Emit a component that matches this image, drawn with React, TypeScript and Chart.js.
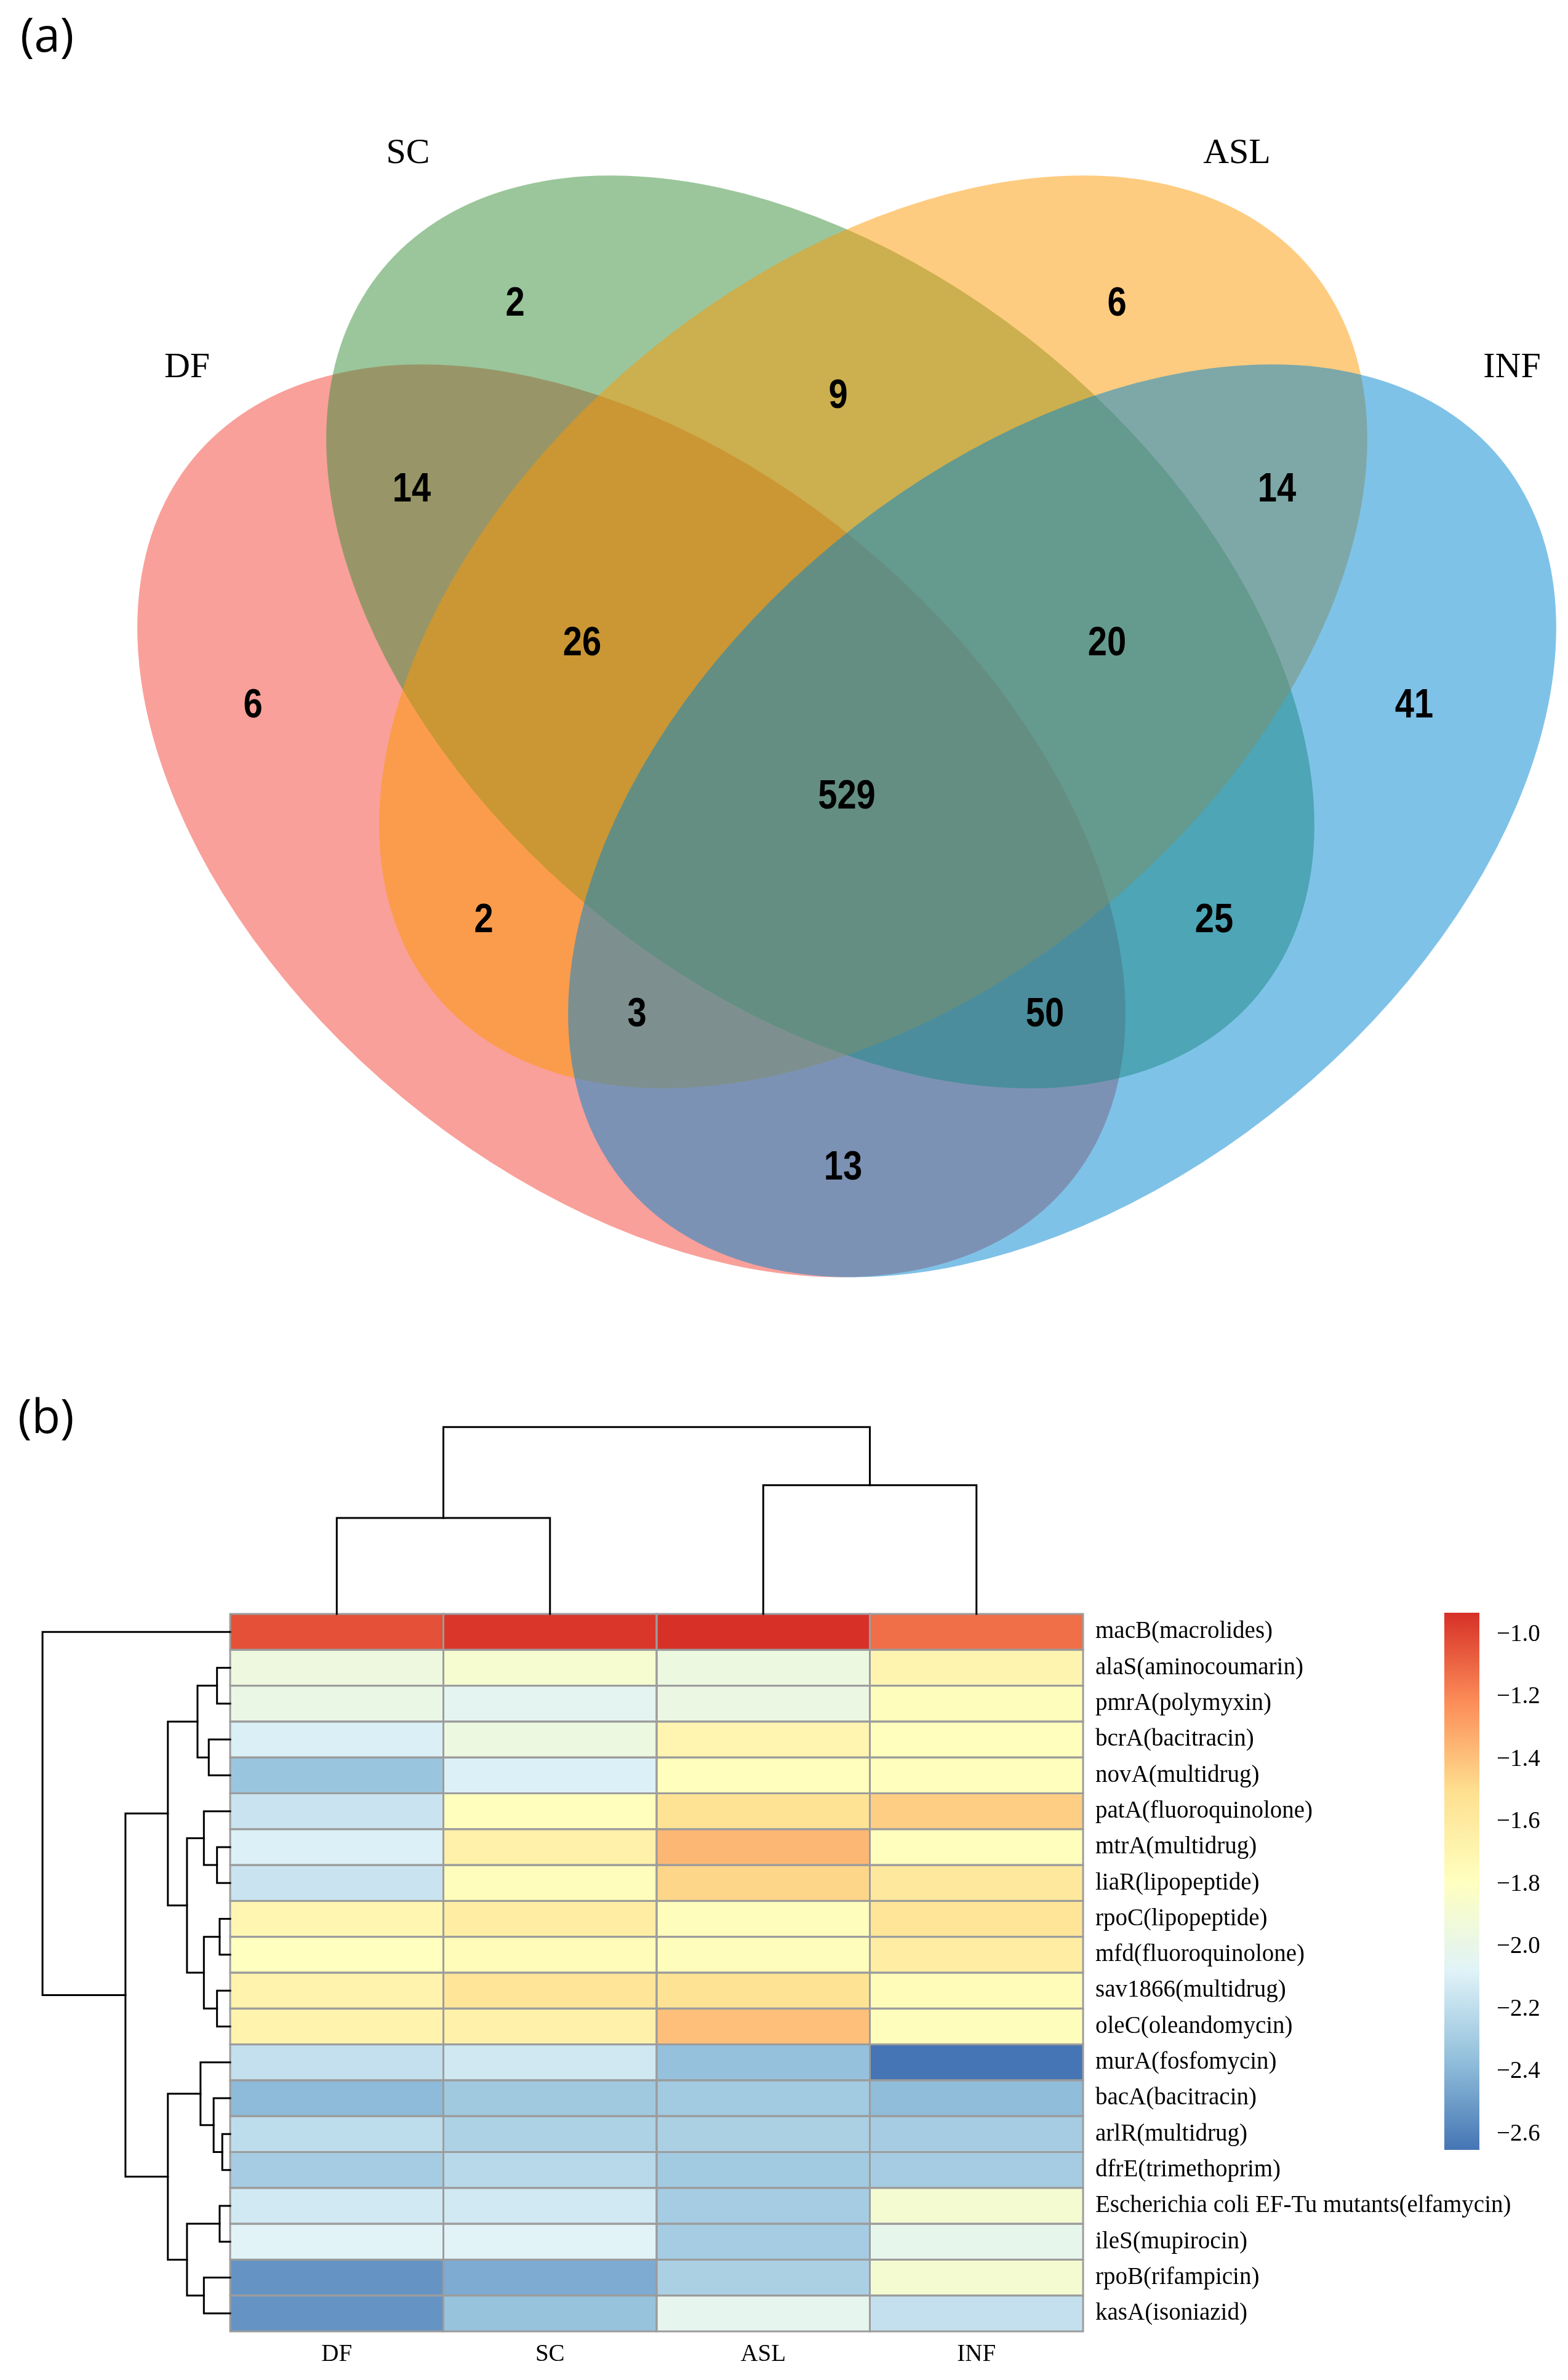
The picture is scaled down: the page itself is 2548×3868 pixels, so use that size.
import React, { useEffect, useRef } from "react";
import { Chart, registerables } from "chart.js";
Chart.register(...registerables);

// ---------------- Panel (a): Venn data ----------------
const VENN_SETS = ["DF", "SC", "ASL", "INF"];
const VENN_FILL = ["rgba(243,65,53,0.5)", "rgba(55,141,55,0.5)", "rgba(253,153,1,0.5)", "rgba(0,134,210,0.5)"];
const VENN_CX = [-0.35, -0.043, 0.043, 0.35];
const VENN_CY = [0.742, 1.049, 1.049, 0.742];
const VENN_ROT = [-39.7, -39.7, 39.7, 39.7];
const VENN_A = [0.924, 0.924, 0.924, 0.924];
const VENN_B = [0.584, 0.584, 0.584, 0.584];
const VENN_SET_LABEL_X = [-1.072, -0.713, 0.634, 1.081];
const VENN_SET_LABEL_Y = [1.478, 1.826, 1.826, 1.478];

const VENN_COUNTS = [6, 2, 6, 41, 14, 9, 14, 26, 20, 529, 2, 25, 3, 50, 13];
const VENN_COUNT_X = [-0.965, -0.539, 0.439, 0.922, -0.707, -0.014, 0.699, -0.43, 0.423, 0, -0.59, 0.597, -0.341, 0.322, -0.006];
const VENN_COUNT_Y = [0.928, 1.581, 1.581, 0.928, 1.279, 1.431, 1.279, 1.029, 1.029, 0.78, 0.579, 0.579, 0.426, 0.426, 0.177];

// ---------------- Panel (b): heatmap data ----------------
const SAMPLES = ["DF", "SC", "ASL", "INF"];
const GENES = [
  "macB(macrolides)",
  "alaS(aminocoumarin)",
  "pmrA(polymyxin)",
  "bcrA(bacitracin)",
  "novA(multidrug)",
  "patA(fluoroquinolone)",
  "mtrA(multidrug)",
  "liaR(lipopeptide)",
  "rpoC(lipopeptide)",
  "mfd(fluoroquinolone)",
  "sav1866(multidrug)",
  "oleC(oleandomycin)",
  "murA(fosfomycin)",
  "bacA(bacitracin)",
  "arlR(multidrug)",
  "dfrE(trimethoprim)",
  "Escherichia coli EF-Tu mutants(elfamycin)",
  "ileS(mupirocin)",
  "rpoB(rifampicin)",
  "kasA(isoniazid)",
];
const VAL_DF = [-1.03, -1.95, -1.98, -2.10, -2.33, -2.16, -2.09, -2.16, -1.71, -1.79, -1.68, -1.68, -2.18, -2.38, -2.20, -2.29, -2.13, -2.07, -2.53, -2.53];
const VAL_SC = [-0.95, -1.87, -2.04, -1.96, -2.09, -1.78, -1.66, -1.77, -1.62, -1.76, -1.55, -1.66, -2.14, -2.31, -2.26, -2.22, -2.13, -2.07, -2.44, -2.34];
const VAL_ASL = [-0.93, -1.96, -1.97, -1.70, -1.78, -1.53, -1.36, -1.47, -1.77, -1.77, -1.53, -1.39, -2.35, -2.30, -2.27, -2.30, -2.29, -2.29, -2.27, -2.02];
const VAL_INF = [-1.12, -1.69, -1.77, -1.78, -1.78, -1.44, -1.78, -1.58, -1.55, -1.62, -1.76, -1.77, -2.65, -2.37, -2.29, -2.29, -1.88, -2.01, -1.88, -2.18];
const VALUES = [VAL_DF, VAL_SC, VAL_ASL, VAL_INF];

// hclust-style merges: [left, right, height]; negative = leaf (1-based display order)
const ROW_MERGES = [
  [-2, -3, 0.35],
  [-4, -5, 0.57],
  [1, 2, 0.87],
  [-7, -8, 0.35],
  [-6, 4, 0.7],
  [-9, -10, 0.28],
  [-11, -12, 0.35],
  [6, 7, 0.7],
  [5, 8, 1.15],
  [3, 9, 1.66],
  [-15, -16, 0.21],
  [-14, 11, 0.44],
  [-13, 12, 0.79],
  [-17, -18, 0.28],
  [-19, -20, 0.7],
  [14, 15, 1.15],
  [13, 16, 1.66],
  [10, 17, 2.79],
  [-1, 18, 5.0],
];
const COL_MERGES = [
  [-1, -2, 2.56],
  [-3, -4, 3.43],
  [1, 2, 4.98],
];
const COLORBAR_TICKS = [-1.0, -1.2, -1.4, -1.6, -1.8, -2.0, -2.2, -2.4, -2.6];
const PALETTE = ["#4575B4", "#91BFDB", "#E0F3F8", "#FFFFBF", "#FEE090", "#FC8D59", "#D73027"];

// ---------------- styles ----------------
const W = 2548;
const VENN_H = 2200;
const HEAT_H = 1668;
const ROW_TREE_UNIT = 0.176; // column-units per height unit
const COL_TREE_UNIT = 1.046; // row-units per height unit
const SERIF = '"Liberation Serif", "Times New Roman", serif';

function hexToRgb(h: string) {
  const n = parseInt(h.slice(1), 16);
  return [(n >> 16) & 255, (n >> 8) & 255, n & 255];
}
const PAL_RGB = PALETTE.map(hexToRgb);
const ALL_VALUES = VALUES.flat();
const VMIN = Math.min(...ALL_VALUES);
const VMAX = Math.max(...ALL_VALUES);

function colorFor(v: number) {
  let t = (v - VMIN) / (VMAX - VMIN);
  t = Math.max(0, Math.min(1, t));
  const seg = t * (PAL_RGB.length - 1);
  const i = Math.min(PAL_RGB.length - 2, Math.floor(seg));
  const f = seg - i;
  const a = PAL_RGB[i], b = PAL_RGB[i + 1];
  const c = a.map((x, k) => Math.round(x + (b[k] - x) * f));
  return `rgb(${c[0]},${c[1]},${c[2]})`;
}

function treeGetter(merges: number[][], leafPos: (i: number) => number) {
  const pos: number[] = [];
  const get = (id: number) =>
    id < 0 ? { p: leafPos(-id - 1), h: 0 } : { p: pos[id - 1], h: merges[id - 1][2] };
  merges.forEach((m, k) => {
    pos[k] = (get(m[0]).p + get(m[1]).p) / 2;
  });
  return get;
}

const vennPlugin = {
  id: "vennDraw",
  afterDatasetsDraw(chart: any) {
    const ctx = chart.ctx as CanvasRenderingContext2D;
    const xs = chart.scales.x;
    const ppu = Math.abs(xs.getPixelForValue(1) - xs.getPixelForValue(0));
    const centers = chart.getDatasetMeta(0).data;
    ctx.save();
    centers.forEach((pt: any, i: number) => {
      ctx.beginPath();
      ctx.ellipse(pt.x, pt.y, VENN_A[i] * ppu, VENN_B[i] * ppu, (-VENN_ROT[i] * Math.PI) / 180, 0, Math.PI * 2);
      ctx.fillStyle = VENN_FILL[i];
      ctx.fill();
    });
    // counts
    ctx.fillStyle = "#000";
    ctx.textAlign = "center";
    ctx.textBaseline = "middle";
    ctx.font = 'bold 66px "Liberation Sans", Arial, sans-serif';
    chart.getDatasetMeta(1).data.forEach((pt: any, i: number) => {
      ctx.save();
      ctx.translate(pt.x, pt.y);
      ctx.scale(0.85, 1);
      ctx.fillText(String(VENN_COUNTS[i]), 0, 0);
      ctx.restore();
    });
    // set labels
    ctx.font = `58px ${SERIF}`;
    chart.getDatasetMeta(2).data.forEach((pt: any, i: number) => {
      ctx.fillText(VENN_SETS[i], pt.x, pt.y);
    });
    // panel label
    ctx.textAlign = "left";
    ctx.font = '76px "Open Sans", "Noto Sans", sans-serif';
    ctx.fillText("(a)", 33, 62);
    ctx.restore();
  },
};

const heatPlugin = {
  id: "heatDraw",
  afterDatasetsDraw(chart: any) {
    const ctx = chart.ctx as CanvasRenderingContext2D;
    const xs = chart.scales.x;
    const ys = chart.scales.y;
    const area = chart.chartArea;
    ctx.save();
    // cells
    const cells = chart.getDatasetMeta(0).data;
    const raws = chart.data.datasets[0].data;
    cells.forEach((_: any, i: number) => {
      const r = raws[i];
      const x0 = xs.getPixelForValue(r.x - 0.5), x1 = xs.getPixelForValue(r.x + 0.5);
      const y0 = ys.getPixelForValue(r.y - 0.5), y1 = ys.getPixelForValue(r.y + 0.5);
      ctx.fillStyle = colorFor(r.v);
      ctx.fillRect(x0, y0, x1 - x0, y1 - y0);
    });
    ctx.strokeStyle = "#9c9c9c";
    ctx.lineWidth = 3;
    cells.forEach((_: any, i: number) => {
      const r = raws[i];
      const x0 = xs.getPixelForValue(r.x - 0.5), x1 = xs.getPixelForValue(r.x + 0.5);
      const y0 = ys.getPixelForValue(r.y - 0.5), y1 = ys.getPixelForValue(r.y + 0.5);
      ctx.strokeRect(x0, y0, x1 - x0, y1 - y0);
    });

    // row dendrogram
    ctx.strokeStyle = "#000";
    ctx.lineWidth = 3;
    ctx.lineCap = "square";
    const rget = treeGetter(ROW_MERGES, (i) => i + 0.5);
    const RX = (h: number) => xs.getPixelForValue(-h * ROW_TREE_UNIT);
    ROW_MERGES.forEach((m) => {
      const a = rget(m[0]), b = rget(m[1]), h = m[2];
      ctx.beginPath();
      ctx.moveTo(RX(a.h), ys.getPixelForValue(a.p));
      ctx.lineTo(RX(h), ys.getPixelForValue(a.p));
      ctx.lineTo(RX(h), ys.getPixelForValue(b.p));
      ctx.lineTo(RX(b.h), ys.getPixelForValue(b.p));
      ctx.stroke();
    });
    // column dendrogram
    const cget = treeGetter(COL_MERGES, (i) => i + 0.5);
    const CY = (h: number) => ys.getPixelForValue(-h * COL_TREE_UNIT);
    COL_MERGES.forEach((m) => {
      const a = cget(m[0]), b = cget(m[1]), h = m[2];
      ctx.beginPath();
      ctx.moveTo(xs.getPixelForValue(a.p), CY(a.h));
      ctx.lineTo(xs.getPixelForValue(a.p), CY(h));
      ctx.lineTo(xs.getPixelForValue(b.p), CY(h));
      ctx.lineTo(xs.getPixelForValue(b.p), CY(b.h));
      ctx.stroke();
    });

    // row labels
    ctx.fillStyle = "#000";
    ctx.font = `39px ${SERIF}`;
    ctx.textBaseline = "middle";
    ctx.textAlign = "left";
    GENES.forEach((g, i) => {
      ctx.fillText(g, area.right + 20, ys.getPixelForValue(i + 0.5));
    });
    // column labels
    ctx.textAlign = "center";
    SAMPLES.forEach((s, j) => {
      ctx.fillText(s, xs.getPixelForValue(j + 0.5), area.bottom + 38);
    });

    // colour bar
    const cbX = area.right + 587;
    const cbW = 57;
    const cbTop = area.top - 2;
    const cbH = 873;
    const vToY = (v: number) => cbTop + ((VMAX - v) / (VMAX - VMIN)) * cbH;
    const grad = ctx.createLinearGradient(0, cbTop + cbH, 0, cbTop);
    PALETTE.forEach((c, i) => grad.addColorStop(i / (PALETTE.length - 1), c));
    ctx.fillStyle = grad;
    ctx.fillRect(cbX, cbTop, cbW, cbH);
    ctx.fillStyle = "#000";
    ctx.textAlign = "left";
    COLORBAR_TICKS.forEach((t) => {
      const label = (t < 0 ? "\u2212" : "") + Math.abs(t).toFixed(1);
      ctx.fillText(label, cbX + cbW + 28, vToY(t));
    });

    // panel label
    ctx.font = '76px "Open Sans", "Noto Sans", sans-serif';
    ctx.fillText("(b)", 29, 107);
    ctx.restore();
  },
};

export default function App() {
  const vennRef = useRef<HTMLCanvasElement>(null);
  const heatRef = useRef<HTMLCanvasElement>(null);

  useEffect(() => {
    const venn = new Chart(vennRef.current as HTMLCanvasElement, {
      type: "scatter",
      data: {
        datasets: [
          { data: VENN_CX.map((x, i) => ({ x, y: VENN_CY[i] })), pointRadius: 0 },
          { data: VENN_COUNT_X.map((x, i) => ({ x, y: VENN_COUNT_Y[i] })), pointRadius: 0 },
          { data: VENN_SET_LABEL_X.map((x, i) => ({ x, y: VENN_SET_LABEL_Y[i] })), pointRadius: 0 },
        ],
      },
      options: {
        responsive: false,
        animation: false,
        devicePixelRatio: 1,
        events: [],
        layout: { padding: { left: 223, right: 19, top: 285, bottom: 124 } },
        scales: {
          x: { type: "linear", min: -1.153, max: 1.153, display: false },
          y: { type: "linear", min: 0, max: 1.791, display: false },
        },
        plugins: { legend: { display: false }, tooltip: { enabled: false } },
      },
      plugins: [vennPlugin],
    } as any);

    const cellData: any[] = [];
    GENES.forEach((_, r) => {
      SAMPLES.forEach((__, c) => {
        cellData.push({ x: c + 0.5, y: r + 0.5, v: VALUES[c][r] });
      });
    });
    const heat = new Chart(heatRef.current as HTMLCanvasElement, {
      type: "scatter",
      data: { datasets: [{ data: cellData, pointRadius: 0 }] },
      options: {
        responsive: false,
        animation: false,
        devicePixelRatio: 1,
        events: [],
        layout: { padding: { left: 374, right: 788, top: 423, bottom: 79 } },
        scales: {
          x: { type: "linear", min: 0, max: SAMPLES.length, display: false },
          y: { type: "linear", min: 0, max: GENES.length, reverse: true, display: false },
        },
        plugins: { legend: { display: false }, tooltip: { enabled: false } },
      },
      plugins: [heatPlugin],
    } as any);

    return () => {
      venn.destroy();
      heat.destroy();
    };
  }, []);

  return (
    <div style={{ position: "absolute", left: 0, top: 0, width: W, height: VENN_H + HEAT_H, background: "#fff" }}>
      <canvas ref={vennRef} width={W} height={VENN_H} style={{ position: "absolute", left: 0, top: 0 }} />
      <canvas ref={heatRef} width={W} height={HEAT_H} style={{ position: "absolute", left: 0, top: VENN_H }} />
    </div>
  );
}
